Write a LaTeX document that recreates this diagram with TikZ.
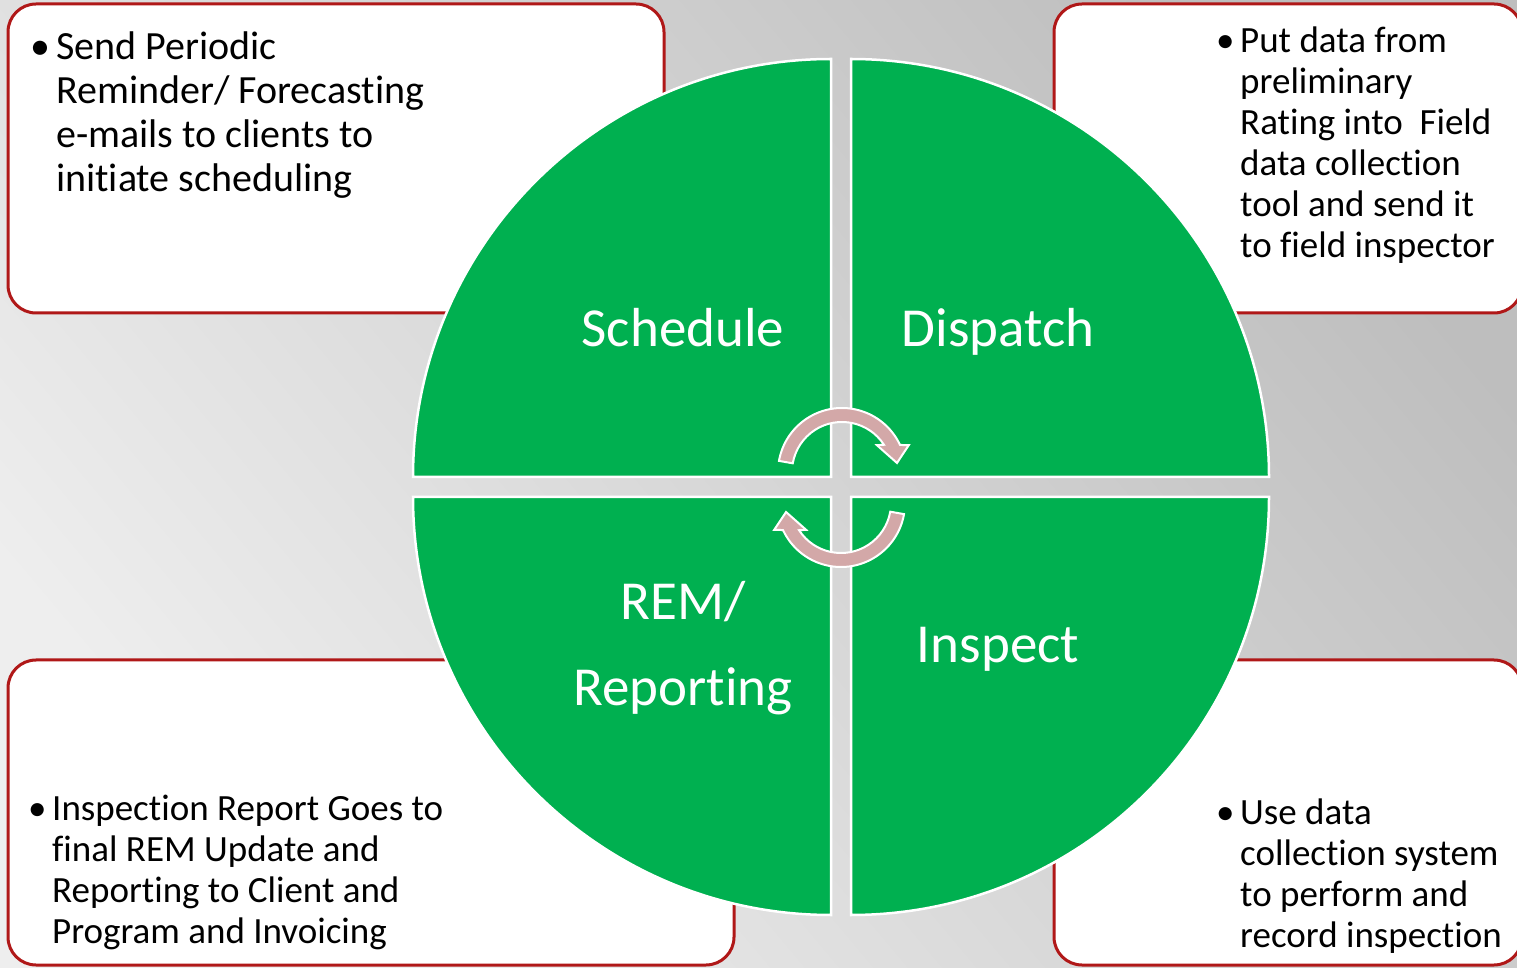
\documentclass[tikz,border=0pt]{standalone}
\usepackage{fontspec}
\setmainfont{Carlito}[Ligatures={NoCommon}]
\usetikzlibrary{calc}
\definecolor{quadgreen}{RGB}{0,176,80}
\definecolor{boxred}{RGB}{176,24,24}
\definecolor{arrowpink}{RGB}{211,168,168}
\definecolor{bglight}{RGB}{238,238,238}
\definecolor{bgdark}{RGB}{190,190,190}
\newcommand{\bullist}[3]{\parbox[t]{#1}{\hangindent=#2\hangafter=1\noindent\makebox[#2][l]{\textbullet}#3}}

\begin{document}
\begin{tikzpicture}[x=1pt,y=1pt]
%\draw[help lines] (0,0) grid[step=100] (1517,967);
\tikzstyle{quad}=[fill=quadgreen,draw=white,line width=2.5pt]
\tikzstyle{note}=[fill=white,draw=boxred,line width=3pt,rounded corners=28pt]
\tikzstyle{t}=[inner sep=0pt,anchor=base west,text=black]
\tikzstyle{q}=[inner sep=0pt,anchor=base,text=white,font=\fontsize{55}{86}\selectfont]
\tikzstyle{cyc}=[fill=arrowpink,draw=white,line width=2pt]

\useasboundingbox (0,0) rectangle (1517,967);
\shade[top color=bgdark,bottom color=bglight,shading angle=-50] (0,0) rectangle (1517,967);

\draw[note] (8,654) rectangle (664,963);
\draw[note] (1054,654) rectangle (1522,963);
\draw[note] (8,2) rectangle (734,307);
\draw[note] (1054,2) rectangle (1522,307);

\node[t,font=\fontsize{40}{44}\selectfont] (sendtxt) at (30,907) {\bullist{600pt}{26pt}{Send Periodic\\Reminder/ Forecasting\\e-mails to clients to\\initiate scheduling}};
\node[t,font=\fontsize{37}{41}\selectfont] (puttxt) at (1216,914) {\bullist{290pt}{24pt}{Put data from\\preliminary\\Rating into~ Field\\data collection\\tool and send it\\to field inspector}};
\node[t,font=\fontsize{37}{41}\selectfont] (reporttxt) at (28,147) {\bullist{600pt}{24pt}{Inspection Report Goes to\\final REM Update and\\Reporting to Client and\\Program and Invoicing}};
\node[t,font=\fontsize{37}{41}\selectfont] (usetxt) at (1216,143) {\bullist{290pt}{24pt}{Use data\\collection system\\to perform and\\record inspection}};

\filldraw[quad] (831,490) -- ++(-418,0) arc[start angle=180,end angle=90,radius=418] -- cycle;
\filldraw[quad] (851,490) -- ++(0,418) arc[start angle=90,end angle=0,radius=418] -- cycle;
\filldraw[quad] (851,470) -- ++(418,0) arc[start angle=0,end angle=-90,radius=418] -- cycle;
\filldraw[quad] (831,470) -- ++(0,-418) arc[start angle=-90,end angle=-180,radius=418] -- cycle;

\node[q] (schedule) at (683,620) {Schedule};
\node[q] (dispatch) at (998,620) {Dispatch};
\node[q] (rem) at (683,347) {\parbox[t]{300pt}{\centering REM/\\Reporting}};
\node[q] (inspect) at (998,305) {Inspect};

\foreach \c/\r in {{(842,495)}/0,{(841,464)}/180}
  \filldraw[cyc,shift={\c},rotate=\r] (170:64) arc[start angle=170,end angle=25,radius=64] -- (21.9:72) -- (9.3:55.7) -- (37.6:44) -- (33:50) arc[start angle=33,end angle=170,radius=50] -- cycle;
\end{tikzpicture}
\end{document}
